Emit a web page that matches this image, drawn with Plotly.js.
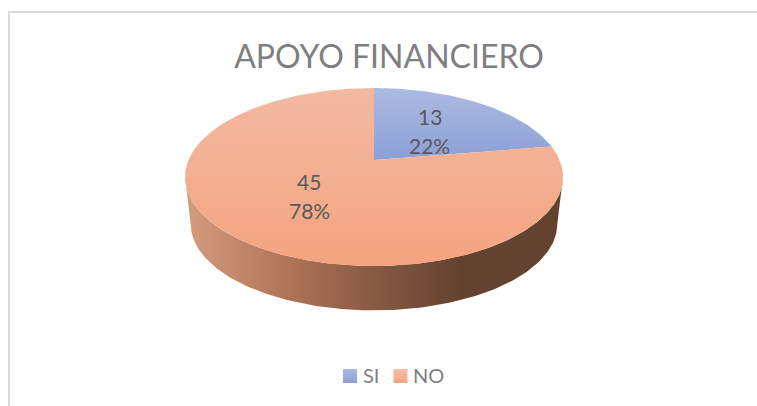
<!DOCTYPE html>
<html>
<head>
<meta charset="utf-8">
<script src="https://cdn.plot.ly/plotly-3.0.1.min.js"></script>
<style>html,body{margin:0;padding:0;background:#fff}#c{width:757px;height:406px}</style>
</head>
<body>
<div id="c"></div>
<script>
var chartTitle = 'APOYO FINANCIERO';
var categories = ['SI', 'NO'];
var values = [13, 45];
var topGradients = [['#ADBBE1', '#8A9FD5'], ['#F2B9A2', '#F4A47F']];
var legendGradients = [['#AAB9E2', '#8CA0D6'], ['#F6BFA8', '#F4A583']];
var sideStops = [[0, '#D69C7E'], [0.28, '#AE7357'], [0.5, '#875A43'], [0.73, '#63432F'], [1, '#63432F']];

// Tilted-disc projection (pixel space of the chart area)
var CX = 374, CY = 160, K = 185.5, A = 85.75, C = 0.191, DEPTH_Y = 47.5, DEPTH_SCALE = 0.97;
function project(theta, r, scale, shiftY) {
  var u = r * Math.sin(theta), v = r * Math.cos(theta), d = 1 + C * v;
  return [CX + scale * K * u / d, CY + shiftY - scale * A * v / d];
}
function arc(a0, a1, r, scale, shiftY) {
  var n = Math.max(2, Math.ceil(Math.abs(a1 - a0) * 60)), pts = [];
  for (var i = 0; i <= n; i++) pts.push(project(a0 + (a1 - a0) * i / n, r, scale, shiftY));
  return pts;
}
var total = values.reduce(function (a, b) { return a + b; }, 0);
var traces = [], annotations = [];

// Side wall
var deg = Math.PI / 180;
var upper = arc(101 * deg, 259 * deg, 1, 1, 0);
var lower = arc(259 * deg, 101 * deg, 1, DEPTH_SCALE, DEPTH_Y);
var wall = upper.concat(lower);
wall.push(wall[0]);
traces.push({
  x: wall.map(function (p) { return p[0]; }), y: wall.map(function (p) { return p[1]; }),
  mode: 'lines', line: { width: 0 }, fill: 'toself', showlegend: false, hoverinfo: 'skip',
  fillgradient: { type: 'horizontal', colorscale: sideStops }
});

// Top wedges and their labels
var start = 0;
values.forEach(function (val, i) {
  var end = start + val / total * 2 * Math.PI;
  var pts = [[CX, CY]].concat(arc(start, end, 1, 1, 0));
  pts.push([CX, CY]);
  traces.push({
    x: pts.map(function (p) { return p[0]; }), y: pts.map(function (p) { return p[1]; }),
    mode: 'lines', line: { width: 0 }, fill: 'toself', showlegend: false,
    name: categories[i], hoverinfo: 'name',
    // the y axis runs downward, so the scale is listed bottom colour first
    fillgradient: { type: 'vertical', colorscale: [[0, topGradients[i][1]], [1, topGradients[i][0]]] }
  });
  var mid = project((start + end) / 2, 0.5, 1, 0);
  [String(val), Math.round(val / total * 100) + '%'].forEach(function (t, j) {
    annotations.push({
      x: mid[0], y: mid[1], xref: 'x', yref: 'y', text: t, showarrow: false,
      yshift: j === 0 ? 13.5 : -15.5, xanchor: 'center', yanchor: 'middle',
      font: { family: 'Lato, sans-serif', size: 21, color: '#595959' }
    });
  });
  start = end;
});

// Legend row: square swatches and their names
var legendY = 376, swatchX = [350, 400.5], labelX = [363, 413];
categories.forEach(function (name, i) {
  traces.push({
    x: [swatchX[i]], y: [legendY], mode: 'markers', name: name, showlegend: false,
    marker: {
      symbol: 'square', size: 14, color: legendGradients[i][0], line: { width: 0 },
      gradient: { type: 'vertical', color: legendGradients[i][1] }
    }
  });
  annotations.push({
    x: labelX[i], y: legendY - 1, xref: 'x', yref: 'y', text: name, showarrow: false,
    xanchor: 'left', yanchor: 'middle', xshift: -2,
    font: { family: 'Lato, sans-serif', size: 20, color: '#7F7F7F' }
  });
});

var layout = {
  width: 757, height: 406,
  margin: { l: 0, r: 0, t: 0, b: 0 },
  paper_bgcolor: '#fff', plot_bgcolor: '#fff',
  showlegend: false,
  title: {
    text: chartTitle, x: 389 / 757, xref: 'paper', xanchor: 'center',
    y: 1 - 57 / 406, yref: 'paper', yanchor: 'middle',
    font: { family: 'Lato, sans-serif', size: 32, color: '#7F7F7F' }
  },
  xaxis: { range: [0, 757], visible: false, fixedrange: true },
  yaxis: { range: [406, 0], visible: false, fixedrange: true },
  shapes: [{
    type: 'path', xref: 'x', yref: 'y', path: 'M 9 406 L 9 12 L 757 12',
    line: { color: '#DADADA', width: 2 }
  }],
  annotations: annotations
};
Plotly.newPlot('c', traces, layout, { displayModeBar: false, staticPlot: true });
</script>
</body>
</html>
